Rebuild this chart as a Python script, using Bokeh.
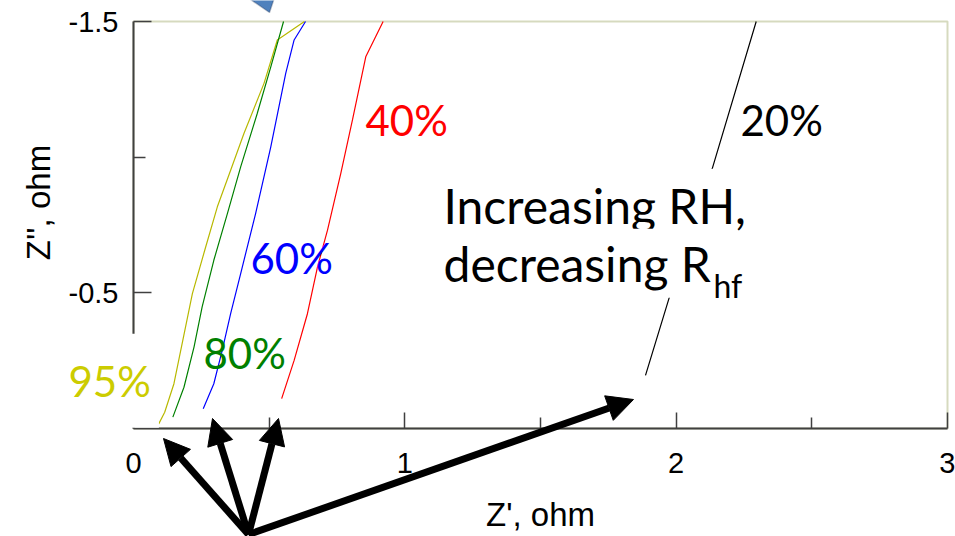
import math
from bokeh.plotting import figure
from bokeh.models import Range1d, FixedTicker, Label, Arrow, NormalHead, PolyAnnotation, BoxAnnotation
from bokeh.embed import file_html
from bokeh.resources import INLINE

# ---------------- data (Z' , Z'' in ohm) ----------------
rh_labels = ["95%", "80%", "60%", "40%", "20%"]

x_95 = [0.093, 0.115, 0.149, 0.217, 0.266, 0.309, 0.358, 0.407, 0.481, 0.530, 0.630]
y_95 = [-0.017, -0.060, -0.165, -0.497, -0.669, -0.817, -0.952, -1.087, -1.272, -1.432, -1.5]

x_80 = [0.145, 0.186, 0.223, 0.253, 0.296, 0.346, 0.395, 0.456, 0.506, 0.553]
y_80 = [-0.042, -0.152, -0.300, -0.448, -0.620, -0.792, -0.964, -1.161, -1.333, -1.5]

x_60 = [0.257, 0.296, 0.327, 0.358, 0.395, 0.450, 0.506, 0.561, 0.592, 0.634]
y_60 = [-0.073, -0.165, -0.288, -0.423, -0.571, -0.792, -1.038, -1.309, -1.432, -1.5]

x_40 = [0.546, 0.592, 0.641, 0.678, 0.715, 0.764, 0.807, 0.856, 0.920]
y_40 = [-0.110, -0.251, -0.423, -0.595, -0.731, -0.940, -1.137, -1.370, -1.5]

x_20 = [1.887, 1.975, 2.133, 2.295]
y_20 = [-0.196, -0.484, -0.958, -1.5]

x_ticks = [0, 1, 2, 3]
x_minor = [0.5, 1.5, 2.5]
y_ticks = [-1.5, -0.5]
y_minor = [-1.0]
x_lim = (0, 3)
y_lim = (0, -1.5)

# ---------------- layout geometry (pixels) ----------------
W, H = 955, 536
FL, FR, FT, FB = 133, 947, 21, 428          # plot box in the window
sx = (FR - FL) / (x_lim[1] - x_lim[0])
sy = (FB - FT) / (y_lim[0] - y_lim[1])
x_range = Range1d(x_lim[0] - FL / sx, x_lim[1] + (W - FR) / sx)
y_range = Range1d(y_lim[0] + (H - FB) / sy, y_lim[1] - FT / sy)


def dx(px):
    return x_lim[0] + (px - FL) / sx


def dy(py):
    return y_lim[0] + (py - FB) / sy


p = figure(width=W, height=H, x_range=x_range, y_range=y_range,
           output_backend="svg", toolbar_location=None,
           min_border_left=0, min_border_right=0,
           min_border_top=0, min_border_bottom=0)
p.background_fill_color = "white"
p.border_fill_color = "white"
p.outline_line_color = None
p.xgrid.visible = False
p.ygrid.visible = False

# plot box (olive frame as in the source)
p.add_layout(BoxAnnotation(left=x_lim[0], right=x_lim[1], bottom=y_lim[0], top=y_lim[1],
                           fill_alpha=0, line_color="#76852b", line_width=2, level="underlay"))

AX = "#404040"
for ax in (p.xaxis[0], p.yaxis[0]):
    ax.fixed_location = 0
    ax.axis_line_color = AX
    ax.axis_line_width = 2
    ax.major_tick_line_color = AX
    ax.minor_tick_line_color = AX
    ax.major_tick_line_width = 1.5
    ax.minor_tick_line_width = 1.5
    ax.major_tick_out = 0
    ax.minor_tick_out = 0
    ax.major_label_text_font = "Liberation Sans"
    ax.major_label_text_font_size = "29px"
    ax.major_label_text_color = "black"

p.xaxis.bounds = x_lim
p.xaxis.ticker = FixedTicker(ticks=x_ticks, minor_ticks=x_minor)
p.xaxis.major_label_overrides = {t: str(t) for t in x_ticks}
p.xaxis.major_tick_in = 16
p.xaxis.minor_tick_in = 11
p.xaxis.major_label_standoff = 24

p.yaxis.bounds = (y_lim[1], y_lim[0])
p.yaxis.ticker = FixedTicker(ticks=y_ticks, minor_ticks=y_minor)
p.yaxis.major_label_overrides = {t: f"{t:.1f}" for t in y_ticks}
p.yaxis.major_tick_in = 18
p.yaxis.minor_tick_in = 12
p.yaxis.major_label_standoff = 15

# ---------------- series ----------------
p.line(x_95, y_95, line_color="#b8b800", line_width=1.2)
p.line(x_80, y_80, line_color="#008000", line_width=1.2)
p.line(x_60, y_60, line_color="#0000ff", line_width=1.2)
p.line(x_40, y_40, line_color="#ff0000", line_width=1.2)
p.line(x_20, y_20, line_color="#000000", line_width=1.2)

# ---------------- annotations ----------------
SHIFT = 0.42   # empirical baseline correction (em)


def lab(px, py, text, color, size=42, font="Lato", bg=None, pad=(0, 0), angle=0.0,
        align="left"):
    # px = left edge of text, py = baseline (window pixels)
    l = Label(x=dx(px - pad[0]), y=dy(py - SHIFT * size),
              text=text, text_color=color, text_font=font, angle=angle,
              text_font_size=f"{size}px", text_baseline="alphabetic", text_align=align)
    if bg:
        l.background_fill_color = bg
        l.padding = pad
    p.add_layout(l)
    return l


lab(365, 137, rh_labels[3], "#ff0000")
lab(740, 137, rh_labels[4], "#000000")
lab(250, 275, rh_labels[2], "#0000ff")
lab(203, 370, rh_labels[1], "#008000")
lab(68, 398, rh_labels[0], "#cccc00", bg="white", pad=(8, 22))

lab(443, 225, "Increasing RH,", "#000000", size=48, bg="white", pad=(8, 8))
lab(443, 283, "decreasing R", "#000000", size=48, bg="white", pad=(6, 6))
lab(713, 298, "hf", "#000000", size=32)

# axis titles
lab(540, 528, "Z', ohm", "black", size=33, font="Liberation Sans", align="center")
p.add_layout(Label(x=dx(38), y=dy(202), text="Z'', ohm",
                   text_font="Liberation Sans", text_font_size="33px",
                   text_align="center", text_baseline="middle",
                   angle=math.pi / 2, text_color="black"))

# arrows (origin below the axis, tips near the curve starts)
for tx, ty in [(163, 438), (212, 418), (278, 418), (633, 399)]:
    p.add_layout(Arrow(end=NormalHead(size=26, fill_color="black", line_color="black"),
                       x_start=dx(248), y_start=dy(534), x_end=dx(tx), y_end=dy(ty),
                       line_color="black", line_width=7))

# partial blue shape at the top edge
p.add_layout(PolyAnnotation(xs=[dx(234), dx(269), dx(277)], ys=[dy(-12), dy(12), dy(-12)],
                            fill_color="#4f81bd", fill_alpha=1.0,
                            line_color="#1f3050", line_width=1.5))

open("out.html", "w").write(file_html(p, INLINE))
